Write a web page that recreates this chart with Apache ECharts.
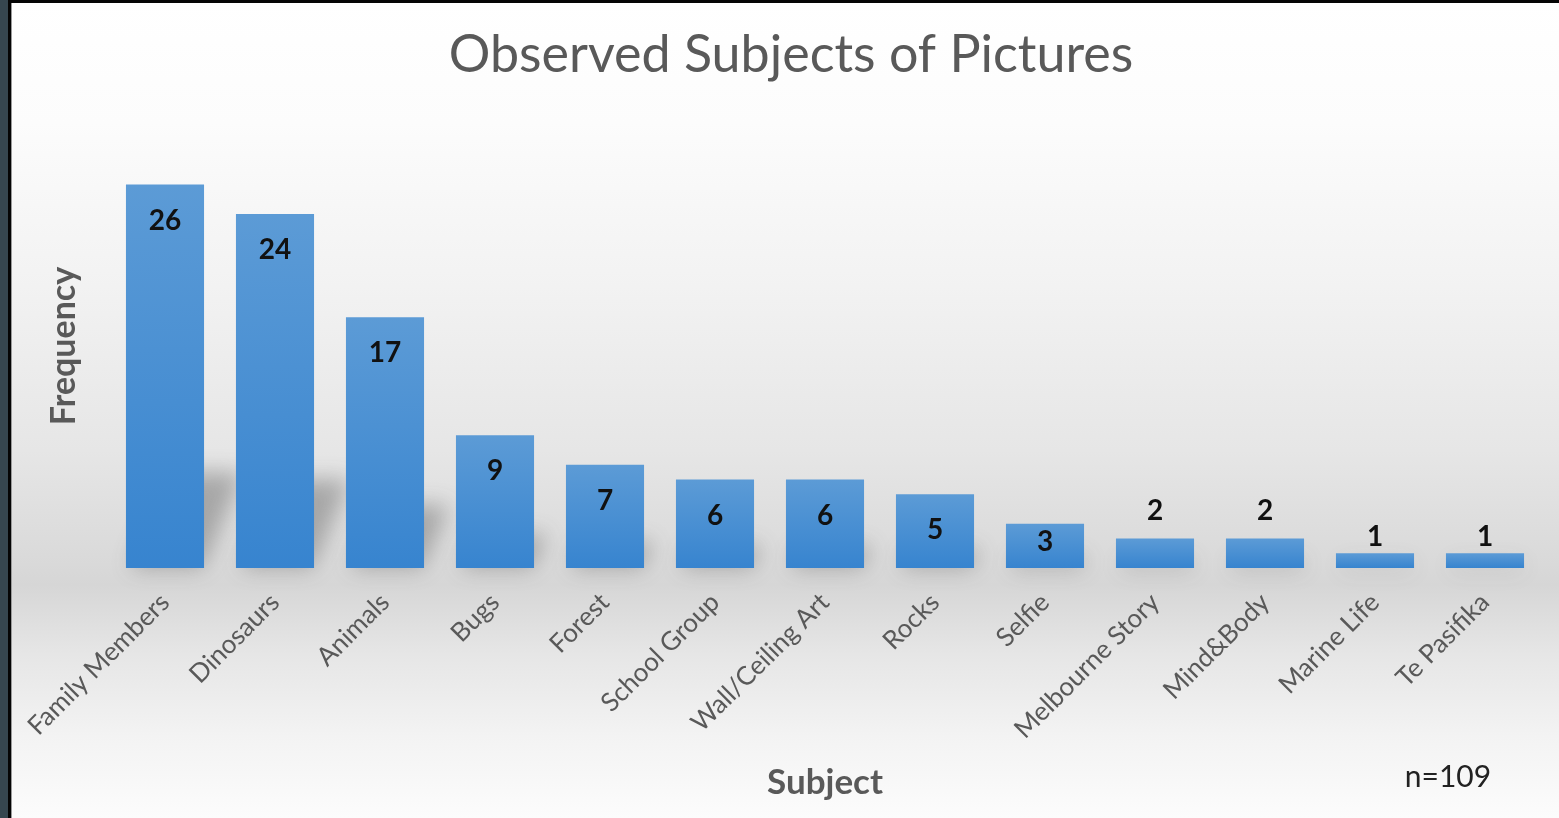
<!DOCTYPE html>
<html>
<head>
<meta charset="utf-8">
<script src="https://cdn.jsdelivr.net/npm/echarts@6/dist/echarts.min.js"></script>
<style>
  html, body { margin: 0; padding: 0; width: 1559px; height: 818px; overflow: hidden; background: #fff; }
  #chart { width: 1559px; height: 818px; }
</style>
</head>
<body>
<div id="chart"></div>
<script>
// Subjects observed in the pictures and how often each appeared
const subjects = ['Family Members', 'Dinosaurs', 'Animals', 'Bugs', 'Forest', 'School Group',
  'Wall/Ceiling Art', 'Rocks', 'Selfie', 'Melbourne Story', 'Mind&Body', 'Marine Life', 'Te Pasifika'];
const frequency = [26, 24, 17, 9, 7, 6, 6, 5, 3, 2, 2, 1, 1];
const sampleSize = 109;

const FONT = 'Lato, "Open Sans", sans-serif';
const TEXT_GREY = '#595959';
const BAR_RATIO = 0.71;

const chart = echarts.init(document.getElementById('chart'));

// Values sit inside the top of tall bars; short bars carry them just above
function labelPlacement(v) {
  if (v >= 5) return { position: 'insideTop', distance: 22 };
  if (v >= 3) return { position: 'insideTop', distance: 4 };
  return { position: 'top', distance: v === 2 ? 14 : 2 };
}
const barData = frequency.map(v => ({ value: v, label: labelPlacement(v) }));

// Soft floor shadow cast by every bar toward the back right
function renderShadow(params, api) {
  const idx = api.value(0);
  const base = api.coord([idx, 0]);
  const top = api.coord([idx, api.value(1)]);
  const w = api.size([1, 0])[0] * BAR_RATIO;
  const h = base[1] - top[1];
  const dy = h * 0.25;
  const dx = h * 0.11;
  const x0 = base[0] - w / 2 + 4;
  const x1 = base[0] + w / 2 - 2;
  const y0 = base[1];
  const OFF = 3000;
  return {
    type: 'polygon',
    silent: true,
    shape: {
      points: [[x0 + OFF, y0], [x1 + OFF, y0], [x1 + dx + OFF, y0 - dy], [x0 + dx + OFF, y0 - dy]]
    },
    style: {
      fill: '#000',
      shadowColor: 'rgba(70,70,70,0.38)',
      shadowBlur: 22,
      shadowOffsetX: -OFF,
      shadowOffsetY: 0
    }
  };
}

const option = {
  animation: false,
  title: {
    text: 'Observed Subjects of Pictures',
    left: 786,
    top: 24,
    textAlign: 'center',
    textStyle: { fontFamily: FONT, fontSize: 52, fontWeight: 'normal', color: TEXT_GREY }
  },
  grid: { left: 110, right: 19, top: 155, bottom: 250, containLabel: false },
  xAxis: {
    type: 'category',
    data: subjects,
    axisLine: { show: false },
    axisTick: { show: false },
    axisLabel: {
      interval: 0,
      rotate: 45,
      margin: 30,
      fontFamily: FONT,
      fontSize: 26,
      color: TEXT_GREY
    }
  },
  yAxis: {
    type: 'value',
    min: 0,
    max: 28,
    show: false
  },
  graphic: {
    elements: [
      {
        type: 'rect', z: -100, silent: true,
        shape: { x: 0, y: 0, width: 1559, height: 818 },
        style: {
          fill: new echarts.graphic.LinearGradient(0, 0, 0, 1, [
            { offset: 0, color: '#ffffff' },
            { offset: 0.15, color: '#fcfcfc' },
            { offset: 0.35, color: '#f2f2f2' },
            { offset: 0.55, color: '#e6e6e6' },
            { offset: 0.69, color: '#d9d9d9' },
            { offset: 0.715, color: '#d6d6d6' },
            { offset: 0.8, color: '#e6e6e6' },
            { offset: 0.9, color: '#f3f3f3' },
            { offset: 1, color: '#fcfcfc' }
          ])
        }
      },
      { type: 'rect', z: 100, silent: true, shape: { x: 0, y: 0, width: 8, height: 818 }, style: { fill: '#36464f' } },
      { type: 'rect', z: 100, silent: true, shape: { x: 8, y: 0, width: 3, height: 818 }, style: { fill: '#050505' } },
      { type: 'rect', z: 100, silent: true, shape: { x: 11, y: 3, width: 1, height: 815 }, style: { fill: '#9a9a9a' } },
      { type: 'rect', z: 100, silent: true, shape: { x: 8, y: 0, width: 1551, height: 3 }, style: { fill: '#050505' } },
      {
        type: 'text', silent: true,
        x: 64, y: 346, rotation: Math.PI / 2,
        style: {
          text: 'Frequency', fontFamily: FONT, fontSize: 34, fontWeight: 'bold',
          fill: TEXT_GREY, align: 'center', verticalAlign: 'middle'
        }
      },
      {
        type: 'text', silent: true,
        x: 825, y: 783,
        style: {
          text: 'Subject', fontFamily: FONT, fontSize: 35, fontWeight: 'bold',
          fill: TEXT_GREY, align: 'center', verticalAlign: 'middle'
        }
      },
      {
        type: 'text', silent: true,
        x: 1448, y: 777,
        style: {
          text: 'n=' + sampleSize, fontFamily: FONT, fontSize: 30,
          fill: '#222222', align: 'center', verticalAlign: 'middle'
        }
      }
    ]
  },
  series: [
    {
      type: 'custom',
      z: 1,
      renderItem: renderShadow,
      data: frequency.map((v, i) => [i, v]),
      encode: { x: 0, y: 1 },
      clip: false
    },
    {
      type: 'bar',
      z: 3,
      data: barData,
      barWidth: (BAR_RATIO * 100) + '%',
      itemStyle: {
        color: new echarts.graphic.LinearGradient(0, 0, 0, 1, [
          { offset: 0, color: '#5c9bd6' },
          { offset: 1, color: '#3784cf' }
        ])
      },
      label: {
        show: true,
        fontFamily: FONT,
        fontSize: 28,
        fontWeight: 'bold',
        color: '#111111'
      }
    }
  ]
};

chart.setOption(option);
</script>
</body>
</html>
